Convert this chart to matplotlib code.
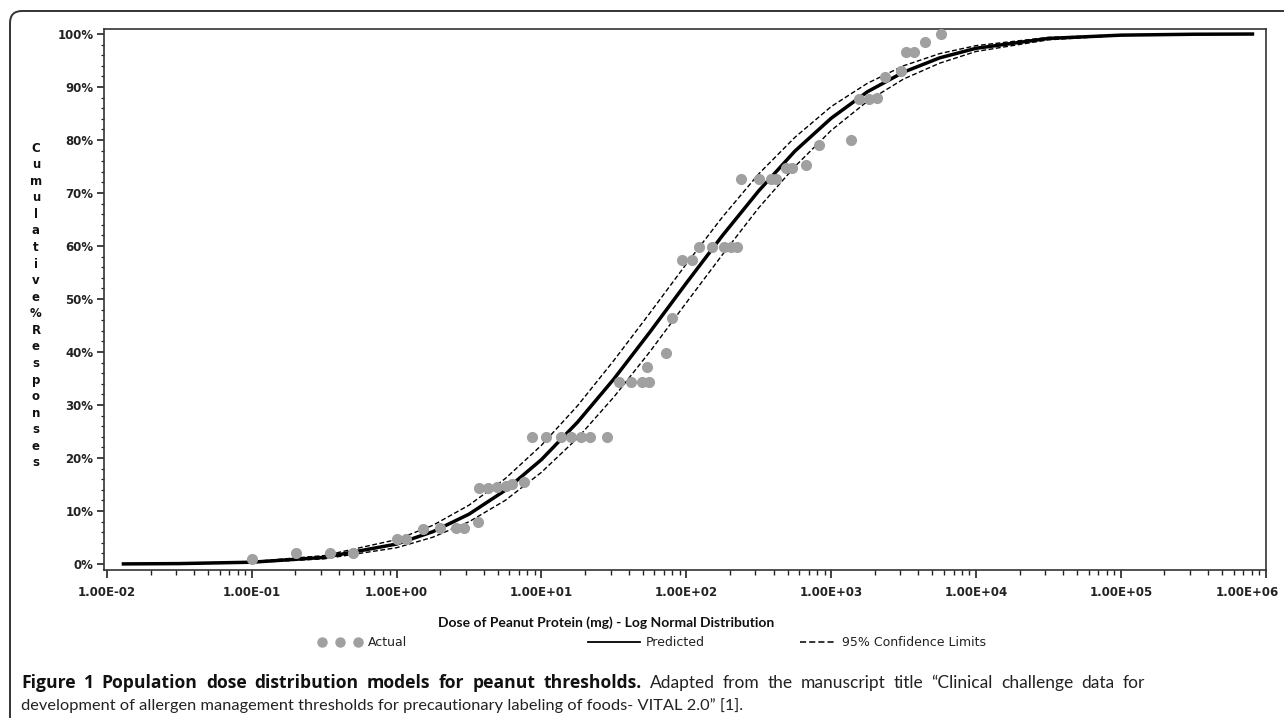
import numpy as np
import matplotlib
matplotlib.use("Agg")
import matplotlib.pyplot as plt
from matplotlib.patches import FancyBboxPatch
from matplotlib.lines import Line2D
from matplotlib.transforms import IdentityTransform
from matplotlib.ticker import FixedLocator, NullFormatter, MultipleLocator

# fitted log-normal curve and its 95% limits (dose mg, cumulative %)
curve_dose = [0.013, 0.0316, 0.1, 0.316, 1, 1.78, 3.16, 5.62, 10, 17.8, 31.6, 56.2,
              100, 178, 316, 562, 1000, 1780, 3160, 5620, 10000, 31600, 100000,
              316000, 810000]
pred_pct = [0.02, 0.08, 0.34, 1.25, 3.77, 6.1, 9.4, 13.9, 19.7, 26.8, 34.9, 43.8,
            53.0, 62.0, 70.4, 77.9, 84.1, 89.1, 92.8, 95.5, 97.3, 99.16, 99.78,
            99.95, 99.99]
upper_pct = [0.03, 0.11, 0.45, 1.59, 4.6, 7.3, 11.1, 16.1, 22.4, 29.9, 38.4, 47.4,
             56.6, 65.5, 73.6, 80.5, 86.3, 90.7, 94.0, 96.3, 97.8, 99.35, 99.84,
             99.97, 99.99]
lower_pct = [0.015, 0.056, 0.26, 0.98, 3.07, 5.06, 7.97, 12.0, 17.3, 23.8, 31.5, 40.1,
             49.3, 58.4, 67.2, 75.0, 81.8, 87.3, 91.5, 94.5, 96.7, 98.9, 99.71,
             99.94, 99.98]

# observed cumulative responses
actual_dose = [0.100, 0.201, 0.345, 0.498, 1.00, 1.17, 1.51, 1.98, 2.59, 2.94, 3.62,
               3.68, 4.25, 4.90, 5.65, 6.31, 7.52,
               8.67, 10.8, 13.7, 16.1, 18.9, 21.8, 28.5,
               34.5, 41.8, 49.8, 55.6, 53.8, 72.8, 80.0,
               93.8, 110, 123, 151, 183, 204, 225,
               240, 319, 385, 418, 490, 539, 673,
               827, 1374, 1560, 1828, 2074, 2356, 3040, 3290, 3733, 4446, 5741]
actual_pct = [0.9, 2.1, 2.1, 2.1, 4.7, 4.7, 6.6, 6.8, 6.8, 6.8, 8.0,
              14.3, 14.3, 14.5, 14.7, 15.1, 15.5,
              24.0, 24.0, 24.0, 24.0, 24.0, 24.0, 24.0,
              34.3, 34.3, 34.3, 34.3, 37.2, 39.8, 46.4,
              57.4, 57.4, 59.8, 59.8, 59.8, 59.8, 59.8,
              72.6, 72.6, 72.6, 72.6, 74.7, 74.7, 75.3,
              79.1, 80.0, 87.7, 87.7, 87.9, 91.9, 93.0, 96.6, 96.6, 98.5, 100.0]

x_ticks = [1e-2, 1e-1, 1e0, 1e1, 1e2, 1e3, 1e4, 1e5, 1e6]
x_labels = ["1.00E-02", "1.00E-01", "1.00E+00", "1.00E+01", "1.00E+02",
            "1.00E+03", "1.00E+04", "1.00E+05", "1.00E+06"]
y_ticks = [0, 10, 20, 30, 40, 50, 60, 70, 80, 90, 100]
y_labels = ["0%", "10%", "20%", "30%", "40%", "50%", "60%", "70%", "80%", "90%", "100%"]

W, H = 1284, 718
fig = plt.figure(figsize=(W / 100, H / 100), dpi=100)
fig.patch.set_facecolor("white")


def fx(x):
    return x / W


def fy(y):
    return 1 - y / H


# outer rounded frame of the figure panel
frame = FancyBboxPatch((10, -40), 1400, H - 11 + 40,
                       boxstyle="round,pad=0,rounding_size=12",
                       transform=IdentityTransform(), fill=False,
                       ec="#333333", lw=1.4)
fig.add_artist(frame)

ax = fig.add_axes([fx(104), fy(570), fx(1266 - 104), (570 - 29) / H])
ax.set_xscale("log")
ax.set_xlim(10 ** -2.02, 10 ** 6.002)
ax.set_ylim(-1.13, 100.94)

ax.plot(curve_dose, upper_pct, color="black", lw=1.0, ls=(0, (3.5, 1.8)), zorder=2)
ax.plot(curve_dose, lower_pct, color="black", lw=1.0, ls=(0, (3.5, 1.8)), zorder=2)
ax.plot(curve_dose, pred_pct, color="black", lw=2.5, zorder=3)
ax.plot(actual_dose, actual_pct, ls="none", marker="o", ms=7,
        color="#a0a0a0", mec="#a0a0a0", zorder=4)

tick_font = dict(family="DejaVu Sans", weight="bold", size=8.5)
ax.xaxis.set_major_locator(FixedLocator(x_ticks))
# last label is drawn separately, nudged left so it stays inside the picture
ax.set_xticklabels(x_labels[:-1] + [""], **tick_font)
ax.annotate(x_labels[-1], xy=(x_ticks[-1], 0), xycoords=("data", "axes fraction"),
            xytext=(-13, -15.9), textcoords="offset points", ha="center", va="center",
            color="#222222", annotation_clip=False, **tick_font)
minor = [m * 10.0 ** e for e in range(-2, 6) for m in range(2, 10)]
ax.xaxis.set_minor_locator(FixedLocator(minor))
ax.xaxis.set_minor_formatter(NullFormatter())
ax.yaxis.set_major_locator(FixedLocator(y_ticks))
ax.set_yticklabels(y_labels, **tick_font)
ax.yaxis.set_minor_locator(MultipleLocator(2))

ax.tick_params(axis="x", which="major", length=6, width=1.2, pad=5.5, colors="#222222")
ax.tick_params(axis="x", which="minor", length=3.5, width=1.0, colors="#222222")
ax.tick_params(axis="y", which="major", length=5, width=1.2, pad=2.5, colors="#222222")
ax.tick_params(axis="y", which="minor", length=2.5, width=0.9, colors="#222222")
for s in ax.spines.values():
    s.set_color("#333333")
    s.set_linewidth(1.2)

# stacked y-axis title
ylab = "Cumulative%Responses"
y0, y1 = 148, 463
for i, ch in enumerate(ylab):
    yy = y0 + (y1 - y0) * i / (len(ylab) - 1)
    fig.text(fx(36), fy(yy), ch, ha="center", va="center",
             family="DejaVu Sans", weight="bold", size=8.5, color="#111111")

fig.text(fx(606), fy(623), "Dose of Peanut Protein (mg) - Log Normal Distribution",
         ha="center", va="center", family="Lato", weight="bold", size=10, color="#111111")

# legend drawn below the axis title
leg_y = fy(642)
fig.add_artist(Line2D([fx(322), fx(340), fx(358)], [leg_y] * 3, ls="none", marker="o",
                      ms=6.5, color="#a0a0a0", transform=fig.transFigure))
fig.text(fx(368), leg_y, "Actual", ha="left", va="center",
         family="DejaVu Sans", size=9, color="#222222")
fig.add_artist(Line2D([fx(588), fx(640)], [leg_y] * 2, color="black", lw=1.3,
                      transform=fig.transFigure))
fig.text(fx(646), leg_y, "Predicted", ha="left", va="center",
         family="DejaVu Sans", size=9, color="#222222")
fig.add_artist(Line2D([fx(800), fx(836)], [leg_y] * 2, color="black", lw=1.1,
                      ls=(0, (4, 2)), transform=fig.transFigure))
fig.text(fx(842), leg_y, "95% Confidence Limits", ha="left", va="center",
         family="DejaVu Sans", size=9, color="#222222")

# caption: second line sets the size, first line is justified like the journal page
fig.canvas.draw()
r = fig.canvas.get_renderer()

bold_s = "Figure 1 Population dose distribution models for peanut thresholds."
reg1_s = "Adapted from the manuscript title \u201cClinical challenge data for"
reg2_s = ("development of allergen management thresholds for precautionary labeling "
          "of foods- VITAL 2.0\u201d [1].")

t3 = fig.text(fx(21), fy(706), reg2_s, ha="left", va="center", family="Lato",
              size=10, color="#222222")
t3.set_fontsize(10 * 719 / t3.get_window_extent(r).width)
cap_size = t3.get_fontsize()

probe = fig.text(0, 0, bold_s, family="Open Sans", weight="bold", size=10)
bold_size = 10 * 595 / probe.get_window_extent(r).width
probe.remove()

words = [(w, dict(family="Open Sans", weight="bold", size=bold_size, color="#111111"))
         for w in bold_s.split()]
words += [(w, dict(family="Lato", size=cap_size * 1.06, color="#222222"))
          for w in reg1_s.split()]
objs = []
for w, kw in words:
    objs.append(fig.text(0, fy(683), w, ha="left", va="center", **kw))
widths = [o.get_window_extent(r).width for o in objs]
gap = (1145 - 21 - sum(widths)) / (len(objs) - 1)
x = 21
for o, wd in zip(objs, widths):
    o.set_x(x / W)
    x += wd + gap

fig.savefig("out.png", dpi=100)
